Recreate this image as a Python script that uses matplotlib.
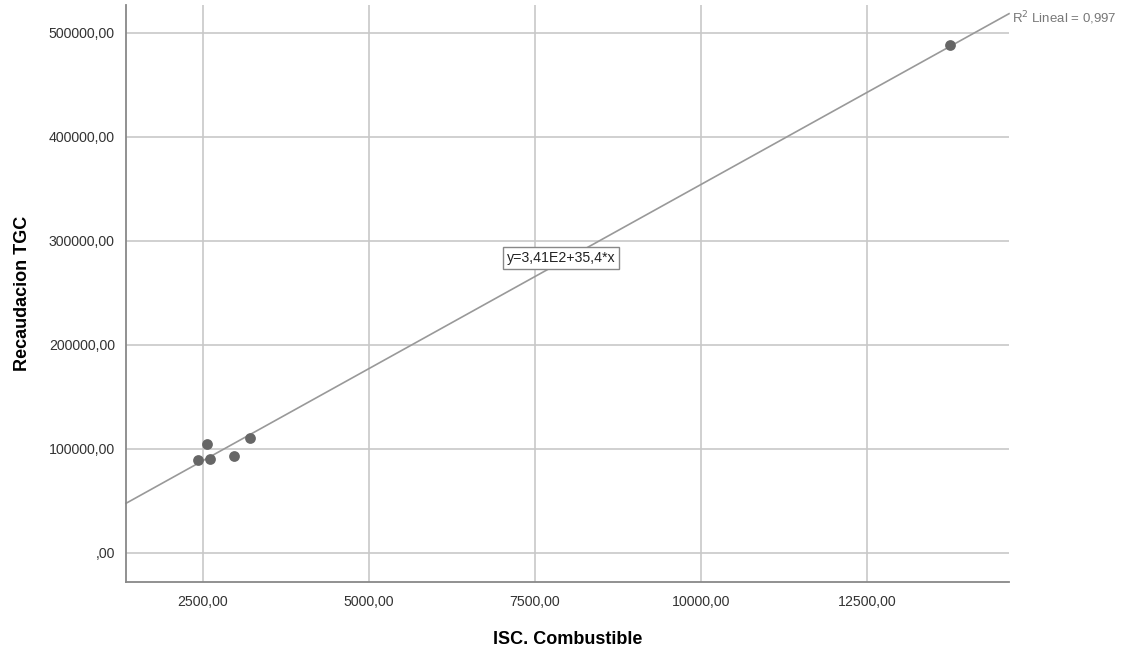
import matplotlib.pyplot as plt
import numpy as np

plt.rcParams['font.family'] = ['Liberation Sans', 'DejaVu Sans']

# data
isc_combustible = [2420, 2560, 2605, 2967, 3214, 13750]
recaudacion_tgc = [89100, 104500, 90700, 93000, 110600, 488500]
intercept = 341
slope = 35.4
r2_text = "R$^2$ Lineal = 0,997"
eq_text = "y=3,41E2+35,4*x"
xticks = [2500, 5000, 7500, 10000, 12500]
yticks = [0, 100000, 200000, 300000, 400000, 500000]


def spss_fmt(v):
    s = f"{v:.2f}".replace(".", ",")
    if s.startswith("0,"):
        s = s[1:]
    return s


fig = plt.figure(figsize=(11.31, 6.5), dpi=100)
ax = fig.add_axes([126 / 1131, 1 - 582 / 650, (1009 - 126) / 1131, (582 - 5) / 650])

xmin, xmax = 1340, 14639
ymin, ymax = -27885, 526923
ax.set_xlim(xmin, xmax)
ax.set_ylim(ymin, ymax)

ax.grid(True, color="#c8c8c8", lw=1.2, zorder=0)
ax.set_axisbelow(True)

xs = np.array([xmin, xmax])
ax.plot(xs, intercept + slope * xs, color="#999999", lw=1.2, zorder=2, clip_on=False)
ax.scatter(isc_combustible, recaudacion_tgc, s=60, color="#666666", zorder=3, linewidths=0)

ax.set_xticks(xticks)
ax.set_yticks(yticks)
ax.set_xticklabels([spss_fmt(v) for v in xticks])
ax.set_yticklabels([spss_fmt(v) for v in yticks])
ax.tick_params(length=0, labelsize=10.2, labelcolor="#333333")
ax.tick_params(axis="x", pad=9)
ax.tick_params(axis="y", pad=8)

for side in ["top", "right"]:
    ax.spines[side].set_visible(False)
for side in ["left", "bottom"]:
    ax.spines[side].set_color("#888888")
    ax.spines[side].set_linewidth(1.3)

ax.set_xlabel("ISC. Combustible", fontsize=13, fontweight="bold", labelpad=16)
ax.set_ylabel("Recaudacion TGC", fontsize=13, fontweight="bold", labelpad=13)

ax.text(xmax + 40, intercept + slope * xmax - 4000, r2_text, fontsize=9.5, color="#777777",
        ha="left", va="center", clip_on=False)
ax.text(7070, 283650, eq_text, fontsize=10.2, color="#222222", ha="left", va="center",
        bbox=dict(boxstyle="square,pad=0.25", fc="white", ec="#888888", lw=1))

fig.savefig("out.png", dpi=100)
